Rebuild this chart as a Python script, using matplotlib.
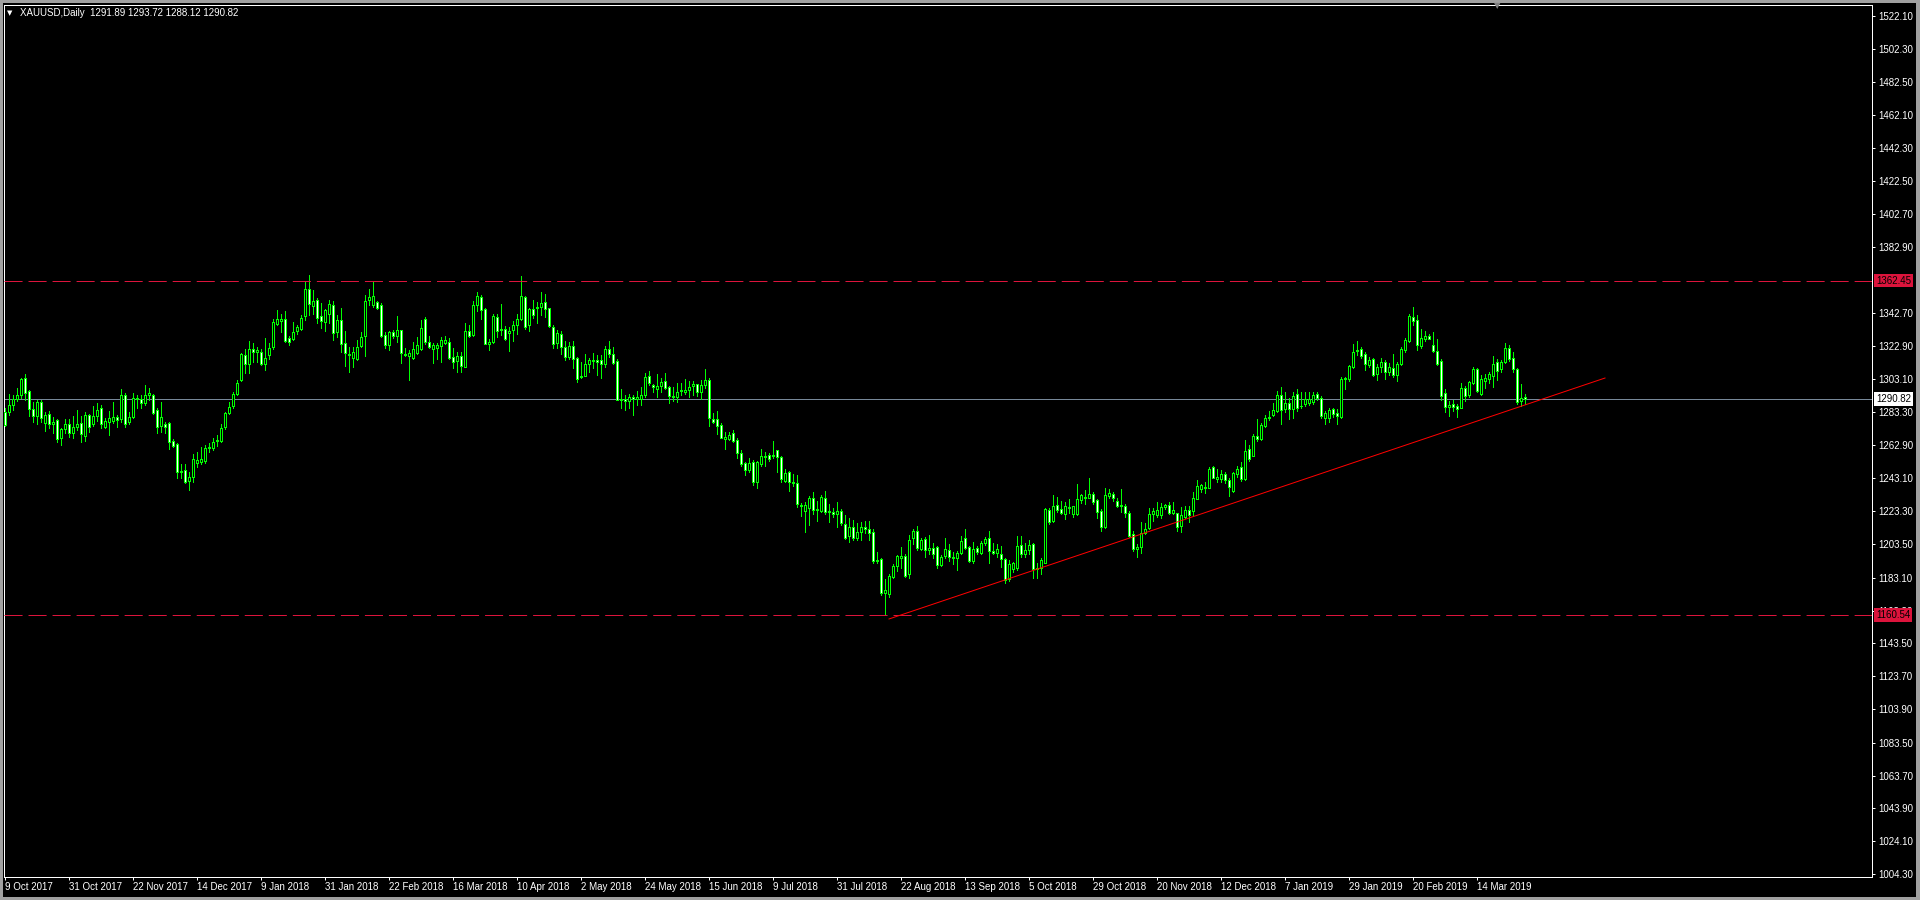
import matplotlib
matplotlib.use('Agg')
import matplotlib.pyplot as plt
import matplotlib.transforms as mtransforms
from matplotlib.patches import Rectangle

plt.rcParams['font.family'] = ['Liberation Sans', 'DejaVu Sans']
plt.rcParams['lines.scale_dashes'] = False

# header of the chart window
symbol = 'XAUUSD,Daily'
last_ohlc = '1291.89 1293.72 1288.12 1290.82'

# daily candles (one value per bar, left to right)
opens = [
    1283.3, 1283.3, 1287.5, 1290.9, 1293.2, 1303.4, 1295.8, 1284.7, 1280.5, 1288.9,
    1276.7, 1281.7, 1276.1, 1278.1, 1267.2, 1272.8, 1275.6, 1270.6, 1274.2, 1276.3,
    1268.8, 1281.1, 1276.1, 1280.7, 1285.3, 1274.2, 1277.3, 1277.9, 1279.9, 1278.7,
    1293.2, 1277.3, 1280.1, 1290.7, 1290.9, 1288.3, 1293.2, 1293.2, 1284.1, 1274.8,
    1275.8, 1276.3, 1265.8, 1263.6, 1246.7, 1247.9, 1241.6, 1243.7, 1252.1, 1252.7,
    1253.7, 1261.2, 1261.2, 1265.6, 1265.8, 1273.8, 1282.3, 1286.7, 1293.8, 1302.6,
    1317.3, 1312.3, 1321.3, 1319.5, 1319.3, 1311.9, 1317.5, 1322.1, 1336.0, 1338.0,
    1339.0, 1327.6, 1326.9, 1331.8, 1333.0, 1341.0, 1357.3, 1346.9, 1350.5, 1340.8,
    1337.2, 1342.4, 1347.5, 1331.2, 1338.4, 1324.5, 1318.1, 1315.9, 1314.9, 1323.1,
    1329.2, 1350.5, 1347.7, 1349.3, 1347.7, 1329.4, 1323.7, 1331.4, 1329.2, 1332.4,
    1318.3, 1316.7, 1315.9, 1318.9, 1320.9, 1339.0, 1325.3, 1321.1, 1321.5, 1322.9,
    1324.5, 1325.1, 1316.1, 1313.9, 1316.7, 1310.5, 1331.8, 1329.4, 1347.7, 1352.3,
    1345.1, 1324.3, 1325.1, 1340.2, 1332.4, 1333.0, 1330.6, 1332.6, 1335.6, 1339.0,
    1352.5, 1335.4, 1345.1, 1345.7, 1346.7, 1349.3, 1345.7, 1334.2, 1324.5, 1330.0,
    1322.1, 1316.5, 1322.9, 1315.5, 1304.2, 1305.0, 1311.9, 1313.9, 1314.3, 1314.3,
    1311.9, 1320.9, 1317.9, 1313.7, 1290.1, 1290.7, 1289.9, 1292.3, 1290.7, 1290.7,
    1293.4, 1304.6, 1299.4, 1297.2, 1298.8, 1301.8, 1298.4, 1291.9, 1291.9, 1295.8,
    1295.4, 1296.6, 1298.6, 1299.8, 1295.4, 1299.4, 1302.4, 1278.9, 1278.9, 1275.2,
    1266.6, 1266.8, 1270.2, 1266.0, 1258.3, 1252.1, 1247.9, 1252.7, 1241.0, 1251.5,
    1255.9, 1257.1, 1256.3, 1259.9, 1255.9, 1241.6, 1246.9, 1240.2, 1240.2, 1226.6,
    1223.5, 1225.1, 1231.0, 1223.7, 1223.5, 1231.0, 1222.5, 1222.5, 1221.3, 1223.3,
    1215.3, 1208.4, 1213.5, 1206.8, 1210.5, 1213.5, 1212.3, 1210.7, 1193.4, 1194.2,
    1173.6, 1173.4, 1183.5, 1190.1, 1195.2, 1196.2, 1185.1, 1207.2, 1211.3, 1200.4,
    1206.6, 1200.0, 1200.8, 1201.6, 1190.7, 1196.4, 1199.8, 1194.8, 1194.8, 1197.8,
    1206.8, 1201.6, 1193.2, 1200.8, 1197.8, 1203.8, 1206.8, 1199.2, 1197.8, 1197.2,
    1194.2, 1182.1, 1188.1, 1188.7, 1202.8, 1197.2, 1199.8, 1203.4, 1188.3, 1189.1,
    1192.2, 1223.9, 1217.3, 1226.8, 1224.3, 1221.7, 1225.3, 1221.3, 1221.3, 1230.0,
    1231.0, 1231.4, 1233.4, 1230.0, 1223.3, 1213.5, 1232.4, 1233.6, 1229.4, 1226.2,
    1226.4, 1222.3, 1209.4, 1200.2, 1201.8, 1209.9, 1212.9, 1221.5, 1220.9, 1220.9,
    1225.5, 1227.0, 1221.9, 1221.9, 1214.5, 1219.9, 1223.9, 1223.5, 1230.6, 1236.4,
    1237.0, 1237.4, 1249.7, 1242.4, 1242.4, 1245.5, 1242.0, 1235.6, 1245.5, 1249.7,
    1242.8, 1260.8, 1256.7, 1268.6, 1266.6, 1274.8, 1279.3, 1281.3, 1283.9, 1293.4,
    1284.9, 1288.3, 1284.7, 1293.8, 1286.5, 1287.9, 1288.3, 1289.3, 1293.8, 1291.7,
    1279.7, 1279.3, 1284.9, 1282.5, 1280.3, 1302.8, 1302.8, 1310.5, 1319.9, 1321.1,
    1317.9, 1311.5, 1315.1, 1306.0, 1310.1, 1313.3, 1307.4, 1309.7, 1305.4, 1312.1,
    1320.5, 1325.9, 1340.2, 1338.4, 1323.1, 1327.2, 1329.0, 1323.5, 1320.1, 1313.9,
    1294.4, 1286.3, 1287.7, 1286.5, 1285.7, 1297.4, 1293.4, 1300.8, 1309.0, 1294.0,
    1302.0, 1303.0, 1305.0, 1313.3, 1309.0, 1313.5, 1321.5, 1315.5, 1309.0, 1289.9,
    1291.89,
]
highs = [
    1285.7, 1293.8, 1293.4, 1297.6, 1303.8, 1306.0, 1296.4, 1289.3, 1290.3, 1290.3,
    1283.3, 1283.7, 1279.9, 1278.9, 1273.6, 1278.9, 1278.9, 1280.9, 1284.3, 1280.5,
    1283.1, 1281.7, 1286.9, 1288.3, 1287.3, 1279.7, 1283.7, 1288.9, 1281.3, 1296.9,
    1294.6, 1283.3, 1294.6, 1293.4, 1293.4, 1299.4, 1297.4, 1293.8, 1285.3, 1288.9,
    1277.3, 1276.9, 1266.8, 1264.4, 1251.9, 1251.5, 1247.1, 1257.5, 1258.7, 1261.8,
    1263.2, 1264.4, 1267.6, 1269.2, 1275.6, 1283.3, 1289.1, 1295.2, 1302.4, 1318.9,
    1321.1, 1325.9, 1324.7, 1322.1, 1321.1, 1327.6, 1324.5, 1339.4, 1344.5, 1342.4,
    1344.3, 1329.0, 1337.6, 1335.6, 1341.6, 1362.2, 1365.8, 1356.5, 1352.1, 1348.7,
    1345.3, 1350.5, 1350.3, 1341.6, 1345.7, 1332.0, 1322.3, 1322.1, 1326.5, 1331.2,
    1353.9, 1357.3, 1361.4, 1350.1, 1348.7, 1331.2, 1332.0, 1332.4, 1340.8, 1332.8,
    1321.9, 1320.5, 1325.3, 1328.4, 1338.8, 1340.4, 1329.2, 1324.9, 1324.5, 1328.4,
    1328.8, 1327.6, 1321.9, 1319.1, 1319.1, 1336.8, 1335.6, 1350.1, 1355.3, 1353.7,
    1346.1, 1327.2, 1342.0, 1342.2, 1348.1, 1335.0, 1334.6, 1338.0, 1342.2, 1365.2,
    1353.3, 1345.7, 1350.7, 1349.3, 1355.3, 1354.3, 1346.1, 1335.6, 1332.4, 1332.0,
    1326.1, 1325.5, 1325.9, 1316.5, 1313.1, 1318.1, 1315.5, 1318.7, 1317.5, 1317.5,
    1322.9, 1325.9, 1322.3, 1315.1, 1297.0, 1293.4, 1294.0, 1293.4, 1295.8, 1298.0,
    1306.4, 1307.8, 1300.2, 1305.8, 1303.4, 1306.4, 1299.0, 1298.4, 1300.8, 1300.4,
    1303.0, 1302.0, 1301.6, 1300.2, 1302.2, 1309.0, 1303.4, 1282.3, 1283.7, 1276.3,
    1270.8, 1270.8, 1272.2, 1267.2, 1259.9, 1253.1, 1255.1, 1254.1, 1253.5, 1260.8,
    1259.1, 1258.3, 1265.4, 1260.4, 1256.7, 1248.5, 1247.5, 1245.5, 1245.1, 1228.2,
    1229.0, 1232.4, 1234.6, 1229.4, 1233.0, 1235.4, 1227.6, 1224.9, 1228.6, 1224.5,
    1220.9, 1219.3, 1217.9, 1215.9, 1216.5, 1217.3, 1217.3, 1212.5, 1198.4, 1194.8,
    1182.3, 1185.5, 1191.1, 1196.8, 1201.6, 1197.2, 1208.8, 1212.5, 1214.3, 1207.2,
    1207.8, 1208.8, 1203.8, 1202.2, 1196.8, 1207.2, 1203.2, 1198.8, 1199.2, 1208.2,
    1212.5, 1202.2, 1204.8, 1202.2, 1205.2, 1207.8, 1211.3, 1203.8, 1203.2, 1202.2,
    1194.8, 1193.8, 1192.8, 1208.2, 1208.2, 1203.8, 1205.8, 1204.2, 1191.7, 1194.8,
    1225.3, 1224.9, 1233.0, 1232.0, 1229.4, 1229.0, 1230.6, 1226.6, 1239.4, 1233.4,
    1236.0, 1243.1, 1235.0, 1230.4, 1224.3, 1237.0, 1236.6, 1235.0, 1231.4, 1236.6,
    1227.4, 1223.5, 1211.3, 1203.2, 1216.9, 1215.9, 1224.9, 1224.9, 1228.6, 1228.0,
    1227.6, 1228.6, 1229.0, 1222.3, 1225.9, 1226.4, 1226.4, 1235.0, 1242.0, 1239.4,
    1241.0, 1250.1, 1250.7, 1248.7, 1248.1, 1247.1, 1243.1, 1247.1, 1250.7, 1253.1,
    1266.2, 1263.2, 1269.8, 1278.9, 1276.3, 1281.3, 1283.7, 1288.5, 1295.8, 1298.2,
    1295.4, 1291.7, 1295.4, 1297.0, 1295.4, 1295.4, 1295.4, 1295.4, 1294.9, 1292.5,
    1283.7, 1285.7, 1285.7, 1284.9, 1304.4, 1304.4, 1311.5, 1323.9, 1325.9, 1322.5,
    1319.5, 1316.5, 1315.5, 1312.1, 1315.5, 1314.5, 1312.9, 1318.1, 1313.5, 1322.5,
    1328.0, 1342.0, 1346.3, 1341.6, 1333.2, 1332.0, 1330.2, 1331.2, 1327.2, 1315.1,
    1297.0, 1289.7, 1290.5, 1287.7, 1300.4, 1299.0, 1302.0, 1310.5, 1309.9, 1305.4,
    1305.8, 1307.4, 1317.1, 1314.9, 1314.5, 1324.5, 1323.5, 1319.5, 1309.9, 1299.8,
    1293.72,
]
lows = [
    1274.8, 1281.3, 1284.1, 1289.9, 1291.3, 1290.1, 1280.9, 1276.9, 1276.1, 1276.9,
    1271.8, 1273.2, 1270.6, 1265.2, 1263.4, 1270.2, 1267.8, 1267.6, 1272.2, 1265.2,
    1265.6, 1271.2, 1274.4, 1277.9, 1273.2, 1273.2, 1269.2, 1276.3, 1274.2, 1277.3,
    1274.0, 1275.8, 1279.3, 1285.3, 1285.3, 1287.3, 1290.3, 1281.9, 1270.2, 1271.2,
    1270.6, 1260.8, 1262.2, 1243.5, 1243.1, 1240.0, 1236.2, 1241.0, 1250.1, 1251.5,
    1252.1, 1259.1, 1260.2, 1262.6, 1265.2, 1273.0, 1281.7, 1285.7, 1293.2, 1302.0,
    1306.4, 1306.6, 1313.5, 1313.3, 1311.5, 1308.2, 1315.1, 1321.3, 1335.6, 1331.6,
    1325.5, 1323.5, 1326.3, 1330.4, 1332.4, 1338.8, 1341.6, 1342.0, 1336.6, 1334.0,
    1332.2, 1336.6, 1326.7, 1328.4, 1319.5, 1311.1, 1307.0, 1310.5, 1314.5, 1322.5,
    1317.1, 1347.7, 1346.5, 1345.3, 1328.4, 1321.9, 1320.5, 1328.0, 1325.5, 1312.9,
    1316.7, 1302.6, 1315.1, 1318.3, 1320.5, 1324.3, 1321.7, 1312.5, 1315.3, 1313.5,
    1323.9, 1315.3, 1309.4, 1307.0, 1307.0, 1310.1, 1328.4, 1328.8, 1344.1, 1339.4,
    1323.9, 1320.7, 1324.5, 1328.4, 1329.6, 1326.3, 1319.9, 1325.9, 1330.2, 1338.6,
    1333.4, 1332.0, 1339.6, 1337.0, 1341.6, 1340.2, 1334.6, 1321.9, 1321.5, 1318.3,
    1314.5, 1315.1, 1309.4, 1301.4, 1303.4, 1304.6, 1307.4, 1309.9, 1305.4, 1303.8,
    1310.5, 1316.5, 1312.1, 1290.3, 1285.5, 1284.5, 1285.7, 1281.3, 1287.3, 1287.3,
    1292.1, 1299.4, 1294.9, 1292.3, 1295.4, 1297.0, 1288.7, 1289.9, 1289.3, 1293.4,
    1294.2, 1292.3, 1293.4, 1292.9, 1290.9, 1297.8, 1274.8, 1276.7, 1269.6, 1267.2,
    1260.8, 1266.0, 1264.8, 1255.1, 1250.7, 1245.1, 1246.7, 1239.0, 1237.4, 1250.7,
    1250.7, 1253.5, 1255.1, 1247.1, 1241.0, 1241.0, 1235.6, 1238.6, 1225.9, 1220.5,
    1210.9, 1214.9, 1221.3, 1217.5, 1222.9, 1221.7, 1216.9, 1219.9, 1213.5, 1214.9,
    1206.4, 1204.4, 1205.8, 1205.8, 1205.8, 1210.3, 1205.8, 1191.7, 1191.7, 1172.6,
    1160.5, 1171.6, 1182.7, 1187.3, 1189.1, 1183.7, 1182.7, 1203.2, 1199.8, 1199.8,
    1195.8, 1197.2, 1195.2, 1189.1, 1190.3, 1195.2, 1193.2, 1191.1, 1187.7, 1197.2,
    1200.4, 1192.8, 1192.2, 1197.2, 1197.2, 1202.8, 1191.7, 1197.2, 1195.8, 1189.7,
    1180.1, 1181.1, 1186.7, 1187.7, 1195.8, 1195.8, 1197.2, 1182.7, 1183.1, 1185.1,
    1191.7, 1215.3, 1216.9, 1222.9, 1221.3, 1218.3, 1221.9, 1219.9, 1220.9, 1228.0,
    1227.4, 1231.0, 1227.4, 1219.3, 1211.5, 1212.9, 1231.0, 1229.4, 1225.7, 1222.9,
    1219.9, 1207.8, 1199.2, 1195.8, 1197.8, 1209.3, 1212.5, 1217.3, 1219.9, 1219.3,
    1224.5, 1221.3, 1221.3, 1211.5, 1210.9, 1218.9, 1216.5, 1220.9, 1230.4, 1235.0,
    1234.4, 1237.0, 1243.1, 1241.0, 1241.0, 1240.0, 1232.6, 1234.6, 1244.1, 1241.6,
    1242.0, 1253.5, 1256.3, 1265.6, 1266.0, 1274.0, 1278.3, 1280.5, 1283.3, 1275.8,
    1283.3, 1278.9, 1279.3, 1283.7, 1285.7, 1286.9, 1287.3, 1287.9, 1290.3, 1279.3,
    1275.8, 1277.3, 1280.3, 1275.8, 1279.7, 1297.0, 1302.0, 1309.4, 1317.5, 1315.9,
    1308.2, 1310.5, 1304.8, 1302.4, 1307.4, 1303.0, 1305.4, 1304.4, 1302.0, 1311.5,
    1319.5, 1325.1, 1335.6, 1320.5, 1321.5, 1325.9, 1327.2, 1319.1, 1311.5, 1290.3,
    1282.9, 1280.9, 1283.7, 1280.3, 1285.3, 1289.9, 1292.3, 1300.2, 1295.4, 1293.4,
    1297.8, 1300.8, 1298.2, 1302.6, 1307.4, 1312.5, 1314.1, 1307.4, 1287.7, 1286.5,
    1288.12,
]
closes = [
    1275.2, 1287.3, 1290.7, 1293.2, 1303.0, 1294.4, 1284.7, 1280.5, 1288.9, 1279.7,
    1281.1, 1276.1, 1276.9, 1266.6, 1272.8, 1275.6, 1270.6, 1273.8, 1275.6, 1270.0,
    1281.1, 1274.2, 1280.5, 1284.1, 1275.6, 1277.5, 1279.3, 1279.9, 1278.3, 1293.2,
    1276.1, 1279.9, 1291.5, 1291.5, 1288.3, 1293.2, 1294.4, 1282.7, 1274.2, 1279.9,
    1274.2, 1265.2, 1262.8, 1246.7, 1247.5, 1241.0, 1243.7, 1254.5, 1254.1, 1254.5,
    1261.2, 1261.8, 1264.8, 1266.0, 1273.2, 1282.7, 1286.3, 1293.8, 1300.4, 1318.1,
    1312.1, 1321.3, 1319.5, 1320.3, 1312.1, 1315.9, 1321.5, 1337.6, 1339.4, 1339.4,
    1326.1, 1325.5, 1331.2, 1334.6, 1340.0, 1357.3, 1348.1, 1349.9, 1339.6, 1338.0,
    1344.5, 1348.1, 1330.6, 1338.4, 1323.9, 1318.5, 1317.3, 1319.3, 1322.1, 1328.2,
    1350.1, 1352.3, 1353.3, 1346.1, 1329.2, 1323.5, 1331.4, 1329.0, 1332.4, 1318.5,
    1317.5, 1318.7, 1321.1, 1323.3, 1333.6, 1325.1, 1322.1, 1323.5, 1323.7, 1326.3,
    1326.5, 1315.9, 1313.5, 1316.7, 1310.7, 1331.8, 1328.8, 1347.7, 1353.3, 1344.5,
    1324.1, 1325.3, 1340.8, 1331.8, 1333.2, 1327.2, 1332.0, 1335.6, 1339.0, 1353.1,
    1334.6, 1345.1, 1341.6, 1346.3, 1348.9, 1345.1, 1335.0, 1324.3, 1330.8, 1322.5,
    1316.5, 1322.9, 1315.1, 1303.0, 1304.6, 1311.9, 1314.5, 1314.3, 1313.5, 1312.3,
    1321.1, 1317.9, 1312.9, 1290.5, 1290.7, 1289.9, 1292.3, 1290.7, 1291.9, 1293.4,
    1304.0, 1300.8, 1298.0, 1298.8, 1301.0, 1297.6, 1292.7, 1292.9, 1295.4, 1296.4,
    1296.4, 1298.0, 1299.8, 1295.2, 1299.4, 1302.2, 1279.3, 1277.3, 1274.4, 1267.6,
    1268.2, 1269.2, 1265.4, 1258.1, 1251.5, 1247.9, 1252.1, 1241.0, 1252.9, 1256.3,
    1256.7, 1254.5, 1257.1, 1255.7, 1242.4, 1246.1, 1241.0, 1241.0, 1227.4, 1227.0,
    1227.2, 1231.0, 1224.1, 1224.5, 1231.6, 1222.5, 1223.1, 1221.3, 1223.3, 1215.9,
    1207.2, 1213.9, 1206.8, 1210.5, 1213.5, 1212.3, 1210.3, 1193.4, 1193.8, 1174.0,
    1175.4, 1184.1, 1190.1, 1196.2, 1196.2, 1184.3, 1205.8, 1211.3, 1200.8, 1205.6,
    1199.8, 1201.0, 1197.6, 1190.7, 1195.8, 1200.2, 1195.8, 1195.8, 1198.2, 1205.2,
    1201.2, 1193.2, 1200.4, 1198.4, 1204.0, 1206.4, 1199.2, 1198.2, 1200.2, 1194.2,
    1181.7, 1191.1, 1191.7, 1202.2, 1197.2, 1199.8, 1202.8, 1188.1, 1189.1, 1193.8,
    1224.3, 1216.5, 1226.4, 1224.1, 1221.9, 1226.4, 1225.8, 1226.4, 1230.6, 1233.0,
    1231.8, 1233.4, 1229.0, 1222.9, 1213.9, 1233.0, 1234.2, 1231.0, 1226.6, 1227.0,
    1222.3, 1208.2, 1200.2, 1201.4, 1210.3, 1212.5, 1221.3, 1223.3, 1223.9, 1225.5,
    1227.0, 1222.3, 1223.7, 1213.9, 1220.9, 1223.9, 1220.9, 1231.0, 1238.4, 1238.8,
    1238.0, 1248.7, 1243.5, 1243.9, 1245.5, 1242.0, 1238.0, 1246.3, 1248.7, 1242.4,
    1259.5, 1254.7, 1268.6, 1266.6, 1275.2, 1279.7, 1280.1, 1284.3, 1293.4, 1284.1,
    1288.3, 1284.7, 1292.7, 1285.7, 1286.9, 1290.7, 1291.1, 1293.4, 1291.3, 1280.9,
    1282.5, 1284.3, 1282.1, 1280.5, 1303.0, 1303.8, 1310.9, 1319.3, 1320.5, 1317.1,
    1311.9, 1314.7, 1305.4, 1310.5, 1313.3, 1307.4, 1310.1, 1305.4, 1312.1, 1321.1,
    1326.5, 1341.0, 1338.0, 1323.5, 1327.6, 1328.8, 1327.4, 1319.7, 1312.1, 1292.9,
    1286.3, 1287.3, 1285.9, 1284.7, 1297.6, 1292.9, 1301.0, 1309.0, 1296.0, 1303.0,
    1303.6, 1306.0, 1312.1, 1308.0, 1313.3, 1321.5, 1315.1, 1309.0, 1289.3, 1291.3,
    1290.82,
]

# time axis labels, one every 16 bars
date_labels = ['9 Oct 2017', '31 Oct 2017', '22 Nov 2017', '14 Dec 2017', '9 Jan 2018',
               '31 Jan 2018', '22 Feb 2018', '16 Mar 2018', '10 Apr 2018', '2 May 2018',
               '24 May 2018', '15 Jun 2018', '9 Jul 2018', '31 Jul 2018', '22 Aug 2018',
               '13 Sep 2018', '5 Oct 2018', '29 Oct 2018', '20 Nov 2018', '12 Dec 2018',
               '7 Jan 2019', '29 Jan 2019', '20 Feb 2019', '14 Mar 2019']
label_every = 16

# price axis labels
price_ticks = [1522.10, 1502.30, 1482.50, 1462.10, 1442.30, 1422.50, 1402.70, 1382.90,
               1342.70, 1322.90, 1303.10, 1283.30, 1262.90, 1243.10, 1223.30, 1203.50,
               1183.10, 1163.30, 1143.50, 1123.70, 1103.90, 1083.50, 1063.70, 1043.90,
               1024.10, 1004.30]

# drawn objects
resistance = 1362.45
support = 1160.54
bid = 1290.82
trend_bars = [221.0, 400.0]
trend_prices = [1158.2, 1303.6]


W, H = 1920, 900
fig = plt.figure(figsize=(W / 100, H / 100), dpi=100, facecolor='#a0a0a0')
px = 72 / 100  # one pixel in points

# black chart window
fig.add_artist(Rectangle((3 / W, 3 / H), (1916 - 3) / W, (897 - 3) / H,
                         transform=fig.transFigure, facecolor='black', edgecolor='none', zorder=0))

ax = fig.add_axes([4 / W, 1 - 877 / H, (1872 - 4) / W, (877 - 4.5) / H])
ax.set_facecolor('black')
for s in ax.spines.values():
    s.set_color('white')
    s.set_linewidth(px)

n = len(closes)
xs = list(range(n))

# wicks
ax.vlines(xs, lows, highs, colors='#00ff00', linewidth=px, antialiased=False, zorder=2)

# bodies : white when the day closed lower, black otherwise
bottoms = [min(o, c) for o, c in zip(opens, closes)]
heights = [max(abs(c - o), 0.01) for o, c in zip(opens, closes)]
faces = ['white' if c < o else 'black' for o, c in zip(opens, closes)]
ax.bar(xs, heights, bottom=bottoms, width=0.5, color=faces, edgecolor='#00ff00',
       linewidth=px, antialiased=False, zorder=3)

# horizontal levels, bid line, trend line
ax.axhline(resistance, color='#dc143c', linewidth=px, dashes=(13, 4.3), zorder=4)
ax.axhline(support, color='#dc143c', linewidth=px, dashes=(13, 4.3), zorder=4)
ax.axhline(bid, color='#778899', linewidth=px, zorder=1)
ax.plot(trend_bars, trend_prices, color='#ff0000', linewidth=px, zorder=5)

ax.set_xlim(-0.25, 466.75)
ax.set_ylim(1002.5, 1529.0)

# time axis
ax.set_xticks([k * label_every for k in range(len(date_labels))])
ax.set_xticklabels(date_labels, ha='left')
ax.tick_params(axis='x', direction='out', length=2.2, width=px, colors='white',
               labelsize=7, pad=1.5)

# price axis on the right
ax.yaxis.tick_right()
ax.set_yticks(price_ticks)
ax.set_yticklabels(['%.2f' % p for p in price_ticks])
ax.tick_params(axis='y', direction='out', length=2.2, width=px, colors='white',
               labelsize=7, pad=2.5)

# price boxes on the scale
trans = mtransforms.blended_transform_factory(ax.transAxes, ax.transData)
for level, fc in [(resistance, '#dc143c'), (support, '#dc143c'), (bid, 'white')]:
    ax.text(1 + 4 / 1868, level, '%.2f' % level, transform=trans, ha='left', va='center',
            fontsize=7, color='black', clip_on=False, zorder=10,
            bbox=dict(boxstyle='square,pad=0.2', facecolor=fc, edgecolor='none'))

# header
fig.text(10 / W, 1 - 13 / H, '\u25bc', color='white', fontsize=5, ha='center', va='center',
         family=['DejaVu Sans'])
fig.text(20 / W, 1 - 13 / H, symbol + '  ' + last_ohlc, color='white', fontsize=7,
         ha='left', va='center')

# chart shift marker
fig.text(1497 / W, 1 - 6 / H, '\u25bc', color='#808080', fontsize=6, ha='center',
         va='center', family=['DejaVu Sans'])

fig.savefig('out.png', dpi=100, facecolor=fig.get_facecolor())
